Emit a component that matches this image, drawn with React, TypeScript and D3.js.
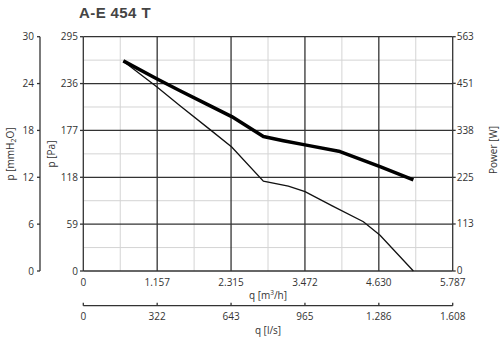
import React from 'react';
import * as d3 from 'd3';

// flow ticks
const flowM3h = ['0', '1.157', '2.315', '3.472', '4.630', '5.787'];
const flowLs = ['0', '322', '643', '965', '1.286', '1.608'];
const pressPa = [0, 59, 118, 177, 236, 295];
const pressMm = [0, 6, 12, 18, 24, 30];
const powerW = [0, 113, 225, 338, 451, 563];

// pressure curve (q in m3/h, p in Pa)
const pressQ = [627, 1150, 1515, 1986, 2325, 2821, 3212, 3474, 3900, 4388, 4649, 5171];
const pressP = [264, 232, 208, 178, 156, 113, 107, 100, 82, 62, 45, 0];

// power curve (q in m3/h, W)
const powerQ = [627, 1150, 1515, 1934, 2325, 2821, 3134, 3474, 4022, 4649, 5171];
const powerP = [505, 462, 433, 401, 371, 323, 313, 303, 287, 251, 219];

const left = 83.3, right = 452.7, top = 36.7, bottom = 271;
const font = '"Open Sans", "DejaVu Sans", sans-serif';
const txt = '#333';

const App: React.FC = () => {
    const x = d3.scaleLinear().domain([0, 5787]).range([left, right]);
    const yPa = d3.scaleLinear().domain([0, 295]).range([bottom, top]);
    const yMm = d3.scaleLinear().domain([0, 30]).range([bottom, top]);
    const yW = d3.scaleLinear().domain([0, 563]).range([bottom, top]);
    const xLs = d3.scaleLinear().domain([0, 5]).range([left, right]);

    const majorX = d3.range(0, 6).map(i => left + (right - left) * i / 5);
    const minorX = d3.range(0, 5).map(i => left + (right - left) * (i + 0.5) / 5);
    const majorY = pressPa.map(v => yPa(v));
    const minorY = d3.range(0, 5).map(i => yPa(59 * (i + 0.5)));

    const line = d3.line<[number, number]>().x(d => d[0]).y(d => d[1]);
    const pressPath = line(pressQ.map((q, i) => [x(q), yPa(pressP[i])]));
    const powerPath = line(powerQ.map((q, i) => [x(q), yW(powerP[i])]));

    const lsY = 305.7;

    return (
        <svg width={502} height={340} style={{ position: 'absolute', left: 0, top: 0, background: '#fff' }} fontFamily={font}>
            <text x={79} y={17.5} fontSize={15} fontWeight="bold" fill="#444" letterSpacing={0.4}
                fontFamily='"Liberation Sans", Arial, sans-serif'>A-E 454 T</text>

            {/* minor grid */}
            {minorX.map((v, i) => <line key={'mx' + i} x1={v} x2={v} y1={top} y2={bottom} stroke="#d4d4d4" strokeWidth={1} />)}
            {minorY.map((v, i) => <line key={'my' + i} x1={left} x2={right} y1={v} y2={v} stroke="#d4d4d4" strokeWidth={1} />)}
            {/* major grid */}
            {majorX.map((v, i) => <line key={'Mx' + i} x1={v} x2={v} y1={top} y2={bottom} stroke="#333" strokeWidth={1.3} />)}
            {majorY.map((v, i) => <line key={'My' + i} x1={left} x2={right} y1={v} y2={v} stroke="#333" strokeWidth={1.3} />)}

            {/* curves */}
            <path d={pressPath || ''} fill="none" stroke="#111" strokeWidth={1.3} />
            <path d={powerPath || ''} fill="none" stroke="#000" strokeWidth={3.5} strokeLinejoin="round" />

            {/* left mmH2O axis */}
            <line x1={40} x2={40} y1={top} y2={bottom} stroke="#333" strokeWidth={1.3} />
            {pressMm.map((v, i) => (
                <g key={'mm' + i}>
                    <line x1={37} x2={40} y1={yMm(v)} y2={yMm(v)} stroke="#333" strokeWidth={1.3} />
                    <text x={34} y={yMm(v)} dy="0.35em" textAnchor="end" fontSize={10} fill={txt}>{v}</text>
                </g>
            ))}
            <text transform={`translate(13.5,154) rotate(-90)`} textAnchor="middle" fontSize={10} fill={txt}>
                p [mmH<tspan fontSize={7} dy={2}>2</tspan><tspan dy={-2}>O]</tspan>
            </text>

            {/* Pa axis */}
            {pressPa.map((v, i) => (
                <g key={'pa' + i}>
                    <line x1={80} x2={left} y1={yPa(v)} y2={yPa(v)} stroke="#333" strokeWidth={1.3} />
                    <text x={78} y={yPa(v)} dy="0.35em" textAnchor="end" fontSize={10} fill={txt}>{v}</text>
                </g>
            ))}
            <text transform={`translate(55,154) rotate(-90)`} textAnchor="middle" fontSize={10} fill={txt}>p [Pa]</text>

            {/* power axis */}
            {powerW.map((v, i) => (
                <g key={'w' + i}>
                    <line x1={right} x2={right + 3} y1={yW(v)} y2={yW(v)} stroke="#333" strokeWidth={1.3} />
                    <text x={right + 4} y={yW(v) - (v === 0 ? 1 : 0)} dy="0.35em" textAnchor="start" fontSize={10} fill={txt}>{v}</text>
                </g>
            ))}
            <text transform={`translate(496.5,150) rotate(-90)`} textAnchor="middle" fontSize={10} fill={txt}>Power [W]</text>

            {/* m3/h axis labels */}
            {flowM3h.map((v, i) => (
                <text key={'q' + i} x={xLs(i)} y={285.5} textAnchor="middle" fontSize={10} fill={txt}>{v}</text>
            ))}
            <text x={(left + right) / 2} y={299} textAnchor="middle" fontSize={10} fill={txt}>
                q [m<tspan fontSize={6.5} dy={-4}>3</tspan><tspan dy={4}>/h]</tspan>
            </text>

            {/* l/s axis */}
            <line x1={left} x2={right} y1={lsY} y2={lsY} stroke="#333" strokeWidth={1.3} />
            {flowLs.map((v, i) => (
                <g key={'ls' + i}>
                    <line x1={xLs(i)} x2={xLs(i)} y1={lsY - 3} y2={lsY} stroke="#333" strokeWidth={1.3} />
                    <text x={xLs(i)} y={320} textAnchor="middle" fontSize={10} fill={txt}>{v}</text>
                </g>
            ))}
            <text x={(left + right) / 2} y={334} textAnchor="middle" fontSize={10} fill={txt}>q [l/s]</text>
        </svg>
    );
};

export default App;
